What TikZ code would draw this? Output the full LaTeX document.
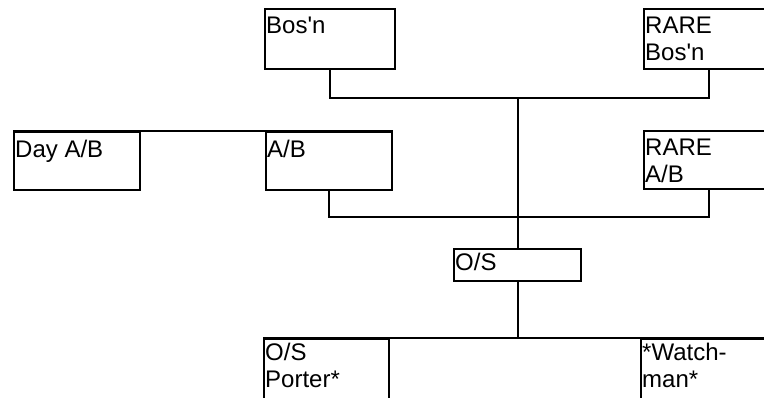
\documentclass[tikz,border=0pt]{standalone}
\usepackage{fontspec}
\setmainfont{Liberation Sans}[Ligatures=TeXOff]
\usepackage{tikz}
\usetikzlibrary{positioning, calc}

\tikzset{
  rank/.style={draw, line width=2.2pt, anchor=north west, inner sep=0pt},
  rankname/.style={anchor=north west, inner sep=0pt, xshift=2pt, yshift=-9pt,
    align=left, font=\fontsize{24}{27}\selectfont},
  link/.style={line width=2.2pt}
}

\begin{document}
\begin{tikzpicture}[x=1pt, y=-1pt]

% page
\clip (0,0) rectangle (764,397);
\fill[white] (0,0) rectangle (764,397);

% === Top row ===
\node[rank, minimum width=130pt, minimum height=60pt,
      label={[rankname]north west:Bos'n}] (bosn) at (264,8) {};
\node[rank, minimum width=130pt, minimum height=60pt,
      label={[rankname]north west:RARE\\Bos'n}] (rarebosn) at (643,8) {};

% === Second row ===
\node[rank, minimum width=126pt, minimum height=58pt,
      label={[rankname]north west:Day A/B}] (dayab) at (13,131) {};
\node[rank, minimum width=126pt, minimum height=58pt,
      label={[rankname]north west:A/B}] (ab) at (265,131) {};
\node[rank, minimum width=130pt, minimum height=58pt,
      label={[rankname]north west:RARE\\A/B}] (rareab) at (643,130) {};

% === O/S ===
\node[rank, minimum width=127pt, minimum height=32pt,
      label={[rankname, yshift=4pt]north west:O/S}] (os) at (453,248) {};

% === Bottom row ===
\node[rank, minimum width=125pt, minimum height=70pt,
      label={[rankname, yshift=4pt]north west:O/S\\Porter*}] (porter) at (263,338) {};
\node[rank, minimum width=130pt, minimum height=70pt,
      label={[rankname, yshift=4pt]north west:*Watch-\\man*}] (watch) at (640,338) {};

% bus levels
\coordinate (topbus) at (0,98);
\coordinate (midbus) at (0,217);

% Connectors
\draw[link] (bosn.south) |- (rarebosn.south |- topbus) -- (rarebosn.south);
\draw[link] (os.north) -- (os.north |- topbus);
\draw[link] (ab.south) |- (rareab.south |- midbus) -- (rareab.south);
\draw[link] (dayab.north west) -- (ab.north east);
\draw[link] (os.south) -- (os.south |- porter.north);
\draw[link] (porter.north west) -- (watch.north east);

\end{tikzpicture}
\end{document}
